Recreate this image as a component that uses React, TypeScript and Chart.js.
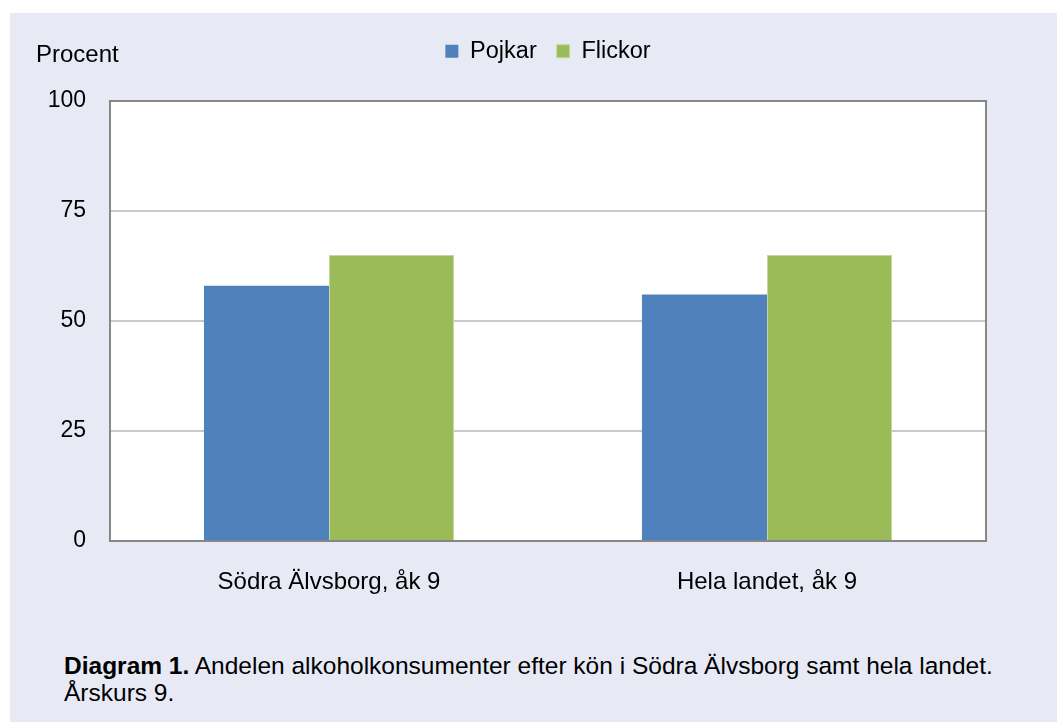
import React, { useEffect, useRef } from "react";
import { Chart, registerables } from "chart.js";

Chart.register(...registerables);

const categories = ["Södra Älvsborg, åk 9", "Hela landet, åk 9"];
const seriesNames = ["Pojkar", "Flickor"];
const pojkar = [58, 56];
const flickor = [65, 65];
const yTicks = [0, 25, 50, 75, 100];

const FONT = '"Liberation Sans", Arial, Helvetica, sans-serif';
const BG = "#e7eaf5";

export default function App() {
  const ref = useRef<HTMLCanvasElement>(null);

  useEffect(() => {
    const frame = {
      id: "frame",
      afterDatasetsDraw(chart: any) {
        const { ctx, chartArea: a } = chart;
        ctx.save();
        ctx.strokeStyle = "#878787";
        ctx.lineWidth = 2;
        ctx.strokeRect(a.left, a.top, a.right - a.left, a.bottom - a.top);
        ctx.restore();
      },
    };
    const plotBg = {
      id: "plotBg",
      beforeDraw(chart: any) {
        const { ctx, chartArea: a } = chart;
        ctx.save();
        ctx.fillStyle = "#ffffff";
        ctx.fillRect(a.left, a.top, a.right - a.left, a.bottom - a.top);
        ctx.restore();
      },
    };
    const chart = new Chart(ref.current!, {
      type: "bar",
      data: {
        labels: categories,
        datasets: [
          {
            label: seriesNames[0],
            data: pojkar,
            backgroundColor: "#4f81bd",
            borderColor: "#4f81bd",
            borderWidth: 0,
            categoryPercentage: 0.571,
            barPercentage: 1,
          },
          {
            label: seriesNames[1],
            data: flickor,
            backgroundColor: "#9bbb59",
            borderColor: "#c4d89e",
            borderWidth: 1,
            categoryPercentage: 0.571,
            barPercentage: 1,
          },
        ],
      },
      options: {
        animation: false,
        responsive: false,
        maintainAspectRatio: false,
        layout: { padding: { top: 6.5, right: 71, left: 0, bottom: 0 } },
        plugins: {
          legend: {
            position: "top",
            align: "center",
            fullSize: false,
            labels: {
              boxWidth: 13,
              boxHeight: 13,
              padding: 20,
              color: "#000",
              font: { family: FONT, size: 23.5 },
            },
          },
          subtitle: {
            display: true,
            text: "",
            position: "top",
            weight: 500,
            fullSize: false,
            padding: 0,
            font: { family: FONT, size: 28, lineHeight: 1 },
          },
          tooltip: { enabled: false },
        },
        scales: {
          x: {
            grid: { display: false },
            border: { display: false },
            ticks: { color: "#000", font: { family: FONT, size: 24 }, padding: 19 },
            afterFit(s: any) {
              s.height = 92;
            },
          },
          y: {
            min: 0,
            max: 100,
            afterBuildTicks(s: any) {
              s.ticks = yTicks.map((v) => ({ value: v }));
            },
            grid: { color: "#c9c9c9", lineWidth: 2, drawTicks: false },
            border: { display: false },
            ticks: { color: "#000", font: { family: FONT, size: 23 }, padding: 24 },
            afterFit(s: any) {
              s.width = 100;
            },
          },
        },
      } as any,
      plugins: [plotBg, frame],
    });
    return () => chart.destroy();
  }, []);

  return (
    <div
      style={{
        position: "absolute",
        left: 10,
        top: 13,
        width: 1047,
        height: 709,
        background: BG,
        fontFamily: FONT,
        color: "#000",
      }}
    >
      <canvas
        ref={ref}
        width={1047}
        height={620}
        style={{ display: "block", position: "absolute", left: 0, top: 0 }}
      />
      <div
        style={{
          position: "absolute",
          left: 26,
          top: 29,
          fontSize: 24,
          lineHeight: "24px",
          whiteSpace: "nowrap",
        }}
      >
        Procent
      </div>
      <div
        style={{
          position: "absolute",
          left: 54,
          top: 638.8,
          fontSize: 24.5,
          lineHeight: "27.5px",
          whiteSpace: "nowrap",
        }}
      >
        <b>Diagram 1.</b> Andelen alkoholkonsumenter efter kön i Södra Älvsborg samt hela landet.
        <br />
        Årskurs 9.
      </div>
    </div>
  );
}
